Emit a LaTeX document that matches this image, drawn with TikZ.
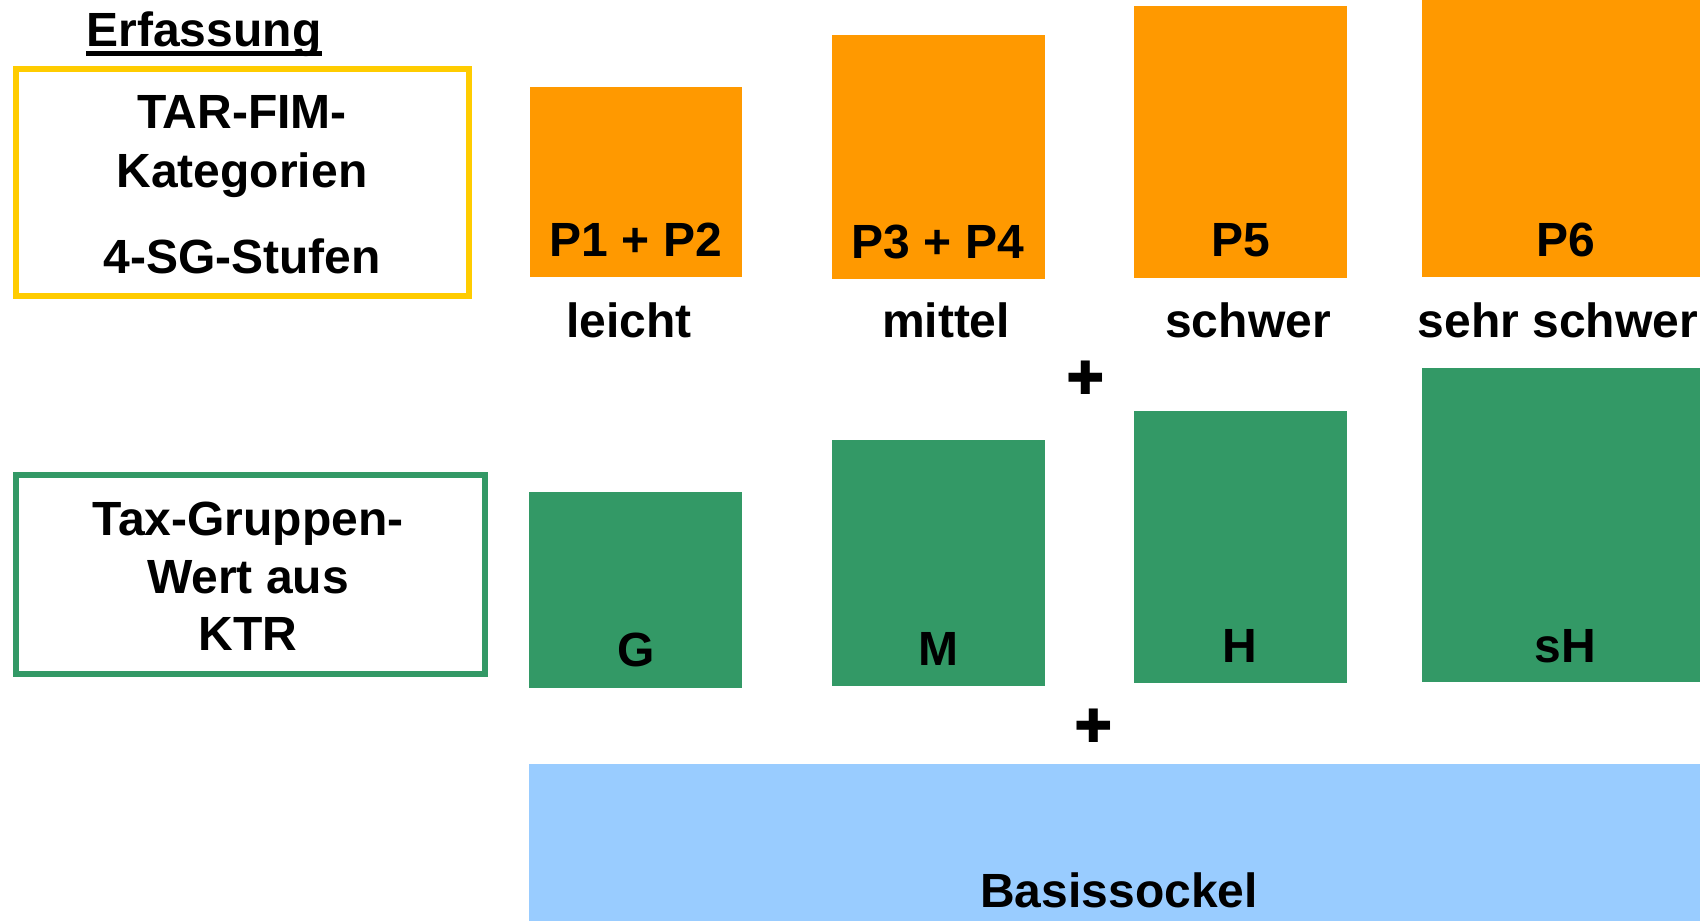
\documentclass[tikz,border=0pt]{standalone}
\usepackage{fontspec}
\setmainfont{Liberation Sans}
\newfontfamily\symfont{DejaVu Sans}
\definecolor{orng}{RGB}{255,153,0}
\definecolor{grn}{RGB}{51,153,102}
\definecolor{lblue}{RGB}{153,204,255}
\definecolor{yel}{RGB}{255,204,0}
\tikzset{
  txt/.style={inner sep=0pt, anchor=base, font=\fontsize{48}{58}\selectfont\bfseries},
  bar/.style={rectangle, inner sep=0pt, draw=none},
  obar/.style={bar, fill=orng},
  gbar/.style={bar, fill=grn},
  frame/.style={rectangle, inner sep=0pt, line width=6pt},
  plussym/.style={inner sep=0pt, font=\fontsize{46}{50}\symfont}
}
\begin{document}
\begin{tikzpicture}[x=1pt,y=-1pt]
\useasboundingbox (0,0) rectangle (1700,921);
% frames
\node[frame, draw=yel, minimum width=453.5pt, minimum height=227.6pt] (yframe) at (242.25,182.5) {};
\node[frame, draw=grn, minimum width=469pt, minimum height=199pt] (gframe) at (250,574.2) {};
% heading
\node[txt] (erf) at (204,46.7) {Erfassung};
\draw[line width=5pt] ([yshift=-6.3pt]erf.base west) -- ([yshift=-6.3pt]erf.base east);
% yellow frame texts
\node[txt] (tar) at (242,128) {TAR-FIM-};
\node[txt] (kat) at (242,187) {Kategorien};
\node[txt] (sg) at (242,273.3) {4-SG-Stufen};
% green frame texts
\node[txt] (tax) at (248,535) {Tax-Gruppen-};
\node[txt] (wert) at (248,593.3) {Wert aus};
\node[txt] (ktr) at (248,650) {KTR};
% orange bars
\node[obar, minimum width=212.5pt, minimum height=189.7pt] (o1) at (635.75,181.85) {};
\node[obar, minimum width=213pt, minimum height=244.3pt] (o2) at (938.5,157.15) {};
\node[obar, minimum width=212.6pt, minimum height=271.7pt] (o3) at (1240.7,141.85) {};
\node[obar, minimum width=278pt, minimum height=276.7pt] (o4) at (1561,138.35) {};
\node[txt] (p12) at (636,256) {P1 + P2};
\node[txt] (p34) at (938,258.3) {P3 + P4};
\node[txt] (p5) at (1241,256.7) {P5};
\node[txt] (p6) at (1566,256.7) {P6};
\node[txt] (l1) at (629,337) {leicht};
\node[txt] (l2) at (946,337) {mittel};
\node[txt] (l3) at (1248,337) {schwer};
\node[txt] (l4) at (1558,337) {sehr schwer};
% plus signs
\node[plussym] (plus1) at (1085.6,378) {✚};
\node[plussym] (plus2) at (1094,726) {✚};
% green bars
\node[gbar, minimum width=213pt, minimum height=195.7pt] (g1) at (635.5,589.85) {};
\node[gbar, minimum width=213pt, minimum height=245.7pt] (g2) at (938.5,562.85) {};
\node[gbar, minimum width=213pt, minimum height=271.7pt] (g3) at (1240.5,546.85) {};
\node[gbar, minimum width=278pt, minimum height=313.7pt] (g4) at (1561,524.85) {};
\node[txt] (tg) at (636,666.7) {G};
\node[txt] (tm) at (938,665) {M};
\node[txt] (th) at (1240,662) {H};
\node[txt] (tsh) at (1565,662) {sH};
% base
\node[bar, fill=lblue, minimum width=1171pt, minimum height=157.3pt] (base) at (1114.5,842.35) {};
\node[txt] (basis) at (1119,907.7) {Basissockel};
\end{tikzpicture}
\end{document}
